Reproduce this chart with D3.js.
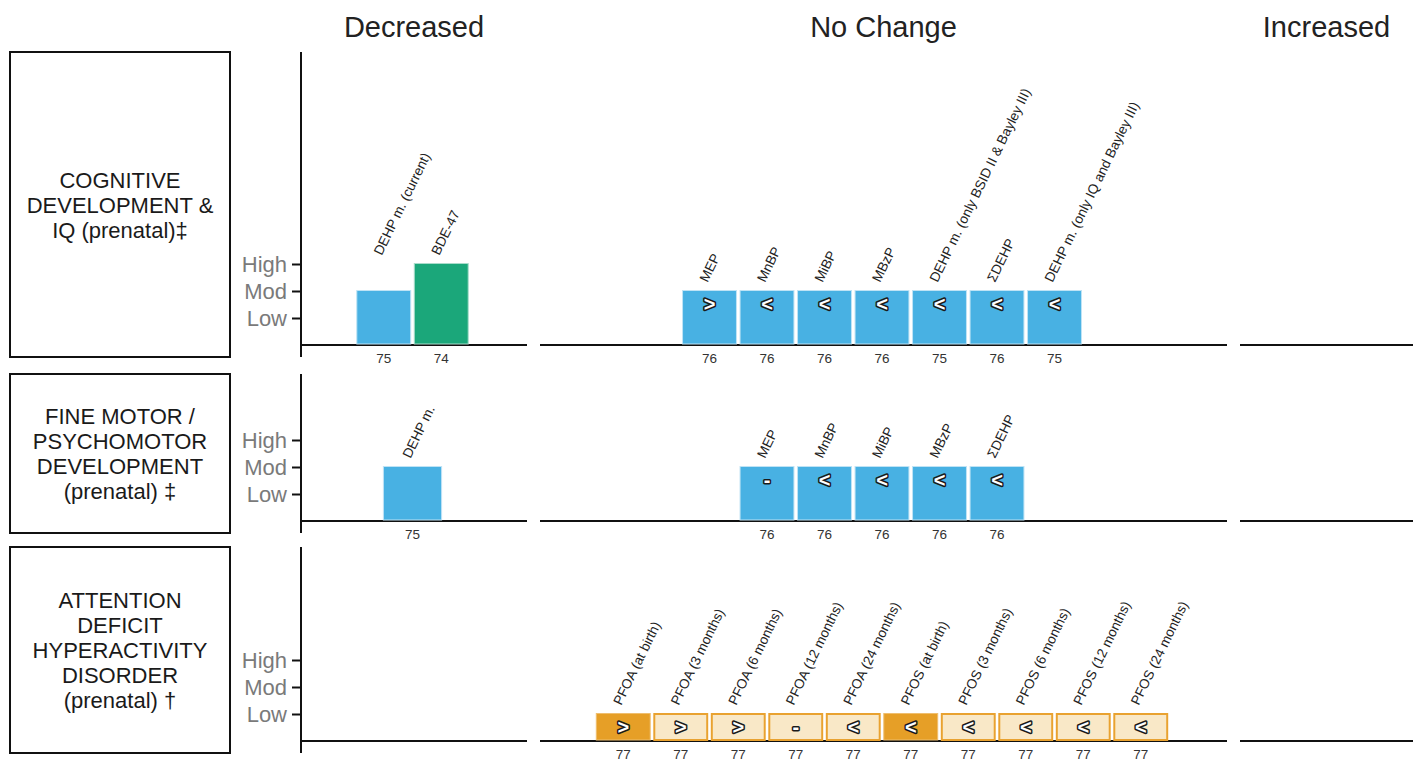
<!DOCTYPE html>
<html>
<head>
<meta charset="utf-8">
<script src="https://cdn.jsdelivr.net/npm/d3@7"></script>
<style>
  body { margin: 0; background: #fff; }
  svg { font-family: "Liberation Sans", Arial, Helvetica, sans-serif; }
</style>
</head>
<body>
<div id="chart"></div>
<script>
// ---- data ----
var columnNames = ["Decreased", "No Change", "Increased"];
var levelNames = ["Low", "Mod", "High"];
var rowTitles = [
  ["COGNITIVE", "DEVELOPMENT &", "IQ (prenatal)\u2021"],
  ["FINE MOTOR /", "PSYCHOMOTOR", "DEVELOPMENT", "(prenatal) \u2021"],
  ["ATTENTION", "DEFICIT", "HYPERACTIVITY", "DISORDER", "(prenatal) \u2020"]
];

// row 1 : cognitive development & IQ
var cogDecLabels = ["DEHP m. (current)", "BDE-47"];
var cogDecLevels = [2, 3];
var cogDecRefs = [75, 74];
var cogDecSymbols = ["", ""];
var cogDecGroups = ["phthalate", "pbde"];

var cogNoLabels = ["MEP", "MnBP", "MiBP", "MBzP", "DEHP m. (only BSID II & Bayley III)", "\u03A3DEHP", "DEHP m. (only IQ and Bayley III)"];
var cogNoLevels = [2, 2, 2, 2, 2, 2, 2];
var cogNoRefs = [76, 76, 76, 76, 75, 76, 75];
var cogNoSymbols = [">", "<", "<", "<", "<", "<", "<"];
var cogNoGroups = ["phthalate", "phthalate", "phthalate", "phthalate", "phthalate", "phthalate", "phthalate"];

// row 2 : fine motor / psychomotor
var motDecLabels = ["DEHP m."];
var motDecLevels = [2];
var motDecRefs = [75];
var motDecSymbols = [""];
var motDecGroups = ["phthalate"];

var motNoLabels = ["MEP", "MnBP", "MiBP", "MBzP", "\u03A3DEHP"];
var motNoLevels = [2, 2, 2, 2, 2];
var motNoRefs = [76, 76, 76, 76, 76];
var motNoSymbols = ["-", "<", "<", "<", "<"];
var motNoGroups = ["phthalate", "phthalate", "phthalate", "phthalate", "phthalate"];

// row 3 : ADHD
var adhdNoLabels = ["PFOA (at birth)", "PFOA (3 months)", "PFOA (6 months)", "PFOA (12 months)", "PFOA (24 months)",
  "PFOS (at birth)", "PFOS (3 months)", "PFOS (6 months)", "PFOS (12 months)", "PFOS (24 months)"];
var adhdNoLevels = [1, 1, 1, 1, 1, 1, 1, 1, 1, 1];
var adhdNoRefs = [77, 77, 77, 77, 77, 77, 77, 77, 77, 77];
var adhdNoSymbols = [">", ">", ">", "-", "<", "<", "<", "<", "<", "<"];
var adhdNoGroups = ["pfas", "pfasSub", "pfasSub", "pfasSub", "pfasSub", "pfas", "pfasSub", "pfasSub", "pfasSub", "pfasSub"];

function makeSet(labels, levels, refs, symbols, groups) {
  return labels.map(function(l, i) {
    return { label: l, level: levels[i], ref: refs[i], symbol: symbols[i], group: groups[i] };
  });
}

var rows = [
  { title: rowTitles[0], top: 52, bottom: 357,
    sets: [makeSet(cogDecLabels, cogDecLevels, cogDecRefs, cogDecSymbols, cogDecGroups),
           makeSet(cogNoLabels, cogNoLevels, cogNoRefs, cogNoSymbols, cogNoGroups), []] },
  { title: rowTitles[1], top: 374, bottom: 533,
    sets: [makeSet(motDecLabels, motDecLevels, motDecRefs, motDecSymbols, motDecGroups),
           makeSet(motNoLabels, motNoLevels, motNoRefs, motNoSymbols, motNoGroups), []] },
  { title: rowTitles[2], top: 547, bottom: 753,
    sets: [[], makeSet(adhdNoLabels, adhdNoLevels, adhdNoRefs, adhdNoSymbols, adhdNoGroups), []] }
];

// ---- layout ----
var width = 1416, height = 761;
var colRanges = [[301, 527], [540, 1227], [1240, 1413]];
var step = 57.5;
var fillColor = { phthalate: "#48B1E3", pbde: "#1BA77A", pfas: "#E69F27", pfasSub: "#F9E8C7" };
var strokeColor = { phthalate: "#BFE3F5", pbde: "#A9DCCB", pfas: "#EFBE6E", pfasSub: "#E9A230" };

var svg = d3.select("#chart").append("svg")
  .attr("width", width)
  .attr("height", height);

// column headers
svg.selectAll("text.header")
  .data(columnNames)
  .enter()
  .append("text")
  .attr("class", "header")
  .attr("x", function(d, i) { return (colRanges[i][0] + colRanges[i][1]) / 2; })
  .attr("y", 37)
  .attr("text-anchor", "middle")
  .style("font-size", "29px")
  .style("fill", "#222")
  .text(function(d) { return d; });

rows.forEach(function(row) {
  var base = row.bottom - 12;
  var y = d3.scaleLinear().domain([0, 3]).range([base, base - 81]);

  // title box
  svg.append("rect")
    .attr("x", 10).attr("y", row.top)
    .attr("width", 220).attr("height", row.bottom - row.top)
    .attr("fill", "none").attr("stroke", "#111").attr("stroke-width", 2);

  var midY = (row.top + row.bottom) / 2;
  var lh = 25;
  svg.append("text")
    .attr("text-anchor", "middle")
    .style("font-size", "22px")
    .style("fill", "#1a1a1a")
    .selectAll("tspan")
    .data(row.title)
    .enter()
    .append("tspan")
    .attr("x", 120)
    .attr("y", function(d, i) { return midY + (i - (row.title.length - 1) / 2) * lh + 8; })
    .text(function(d) { return d; });

  // y axis
  var yAxis = d3.axisLeft(y)
    .tickValues([1, 2, 3])
    .tickFormat(function(d) { return levelNames[d - 1]; })
    .tickSize(9)
    .tickPadding(5);
  var ga = svg.append("g")
    .attr("transform", "translate(301,0)")
    .call(yAxis);
  ga.select(".domain").remove();
  ga.selectAll(".tick line").attr("stroke", "#111").attr("stroke-width", 2);
  ga.selectAll(".tick text")
    .style("font-size", "22px")
    .style("font-family", "\"Liberation Sans\", Arial, sans-serif")
    .attr("fill", "#7a7a7a");
  svg.append("line")
    .attr("x1", 301).attr("x2", 301)
    .attr("y1", row.top).attr("y2", row.bottom)
    .attr("stroke", "#111").attr("stroke-width", 2);

  row.sets.forEach(function(set, ci) {
    var r = colRanges[ci];
    // baseline for this column
    svg.append("line")
      .attr("x1", r[0]).attr("x2", r[1])
      .attr("y1", base).attr("y2", base)
      .attr("stroke", "#111").attr("stroke-width", 2);

    if (!set.length) return;
    var center = (r[0] + r[1]) / 2 - 1.5;
    var st = set.length == 1 ? 62 : step;
    var x = d3.scaleBand()
      .domain(set.map(function(d) { return d.label; }))
      .range([center - set.length * st / 2, center + set.length * st / 2])
      .paddingInner(0.045)
      .paddingOuter(0.0225);
    var bw = x.bandwidth();
    var topLevel = d3.max(set, function(d) { return d.level; });

    var g = svg.append("g");
    var bars = g.selectAll("g.bar")
      .data(set)
      .enter()
      .append("g")
      .attr("class", "bar");

    bars.append("rect")
      .attr("x", function(d) { return x(d.label) + (d.group == "pfasSub" ? 1 : 0.5); })
      .attr("y", function(d) { return y(d.level) - 1 + (d.group == "pfasSub" ? 1 : 0.5); })
      .attr("width", function(d) { return bw - (d.group == "pfasSub" ? 2 : 1); })
      .attr("height", function(d) { return base - y(d.level) + 1 - (d.group == "pfasSub" ? 2 : 1.5); })
      .attr("fill", function(d) { return fillColor[d.group]; })
      .attr("stroke", function(d) { return strokeColor[d.group]; })
      .attr("stroke-width", function(d) { return d.group == "pfasSub" ? 2 : 1; });

    // symbols inside the bars
    bars.filter(function(d) { return d.symbol; })
      .append("text")
      .attr("x", function(d) { return x(d.label) + bw / 2; })
      .attr("y", function(d) { return y(d.level) + 13; })
      .attr("text-anchor", "middle")
      .attr("dominant-baseline", "central")
      .style("font-size", "20px")
      .style("font-weight", "bold")
      .style("fill", "#fff")
      .style("stroke", "#1a1a1a")
      .style("stroke-width", "3px")
      .style("paint-order", "stroke")
      .style("stroke-linejoin", "round")
      .text(function(d) { return d.symbol; });

    // rotated exposure labels, all starting at the tallest bar of the panel
    bars.append("text")
      .attr("transform", function(d) {
        return "translate(" + (x(d.label) + bw / 2 - 2) + "," + (y(topLevel) - 8) + ") rotate(-64)";
      })
      .attr("text-anchor", "start")
      .style("font-size", "13.6px")
      .style("fill", "#222")
      .text(function(d) { return d.label; });

    // reference numbers under the axis
    bars.append("text")
      .attr("x", function(d) { return x(d.label) + bw / 2; })
      .attr("y", base + 18)
      .attr("text-anchor", "middle")
      .style("font-size", "13.5px")
      .style("fill", "#333")
      .text(function(d) { return d.ref; });
  });
});
</script>
</body>
</html>
